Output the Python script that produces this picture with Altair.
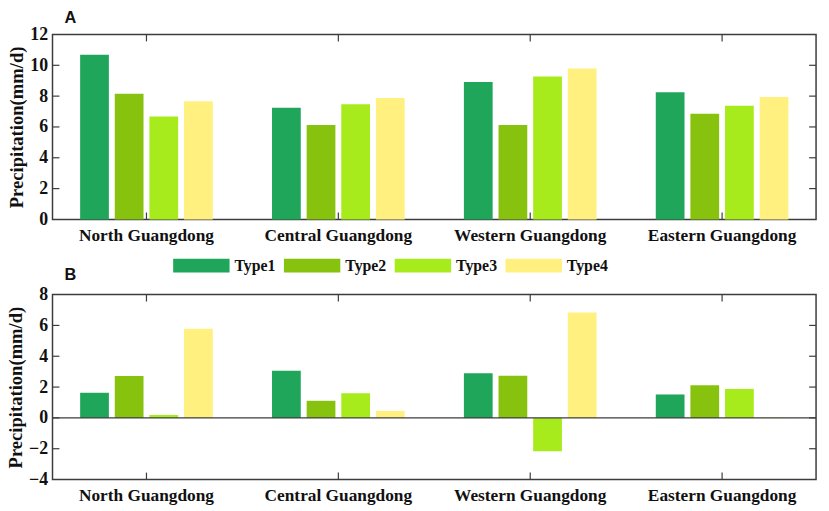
import altair as alt
import pandas as pd

regions = ['North Guangdong', 'Central Guangdong', 'Western Guangdong', 'Eastern Guangdong']
types = ['Type1', 'Type2', 'Type3', 'Type4']
colors = ['#20A65A', '#87C20F', '#A8EB1C', '#FFF07F']

# values per type, same order as regions
a_vals = {
    'Type1': [10.68, 7.25, 8.92, 8.25],
    'Type2': [8.15, 6.12, 6.13, 6.85],
    'Type3': [6.67, 7.47, 9.27, 7.37],
    'Type4': [7.67, 7.88, 9.8, 7.95],
}
b_vals = {
    'Type1': [1.63, 3.06, 2.89, 1.52],
    'Type2': [2.72, 1.11, 2.74, 2.12],
    'Type3': [0.19, 1.6, -2.16, 1.88],
    'Type4': [5.78, 0.45, 6.84, 0.03],
}
a_ticks = [0, 2, 4, 6, 8, 10, 12]
b_ticks = [-4, -2, 0, 2, 4, 6, 8]

W = 772
H = 187
serif = 'Liberation Serif'
dark = '#3c3c3c'
y_title = 'Precipitation(mm/d)'


def panel(vals, ticks, letter, title_offset, title_dy):
    rows = [{'region': r, 'type': t, 'value': vals[t][i]}
            for t in types for i, r in enumerate(regions)]
    df = pd.DataFrame(rows)
    yscale = alt.Scale(domain=[ticks[0], ticks[-1]], nice=False, zero=False)
    xscale = alt.Scale(range=[-2, W + 2], paddingInner=0, paddingOuter=0)
    # every layer gets the same axis, otherwise the merge drops settings
    xaxis = alt.Axis(ticks=False, domain=False, labelAngle=0, labelPadding=7,
                     labelOverlap=False, labelFontSize=17.5)
    yaxis = alt.Axis(values=ticks, ticks=False, domain=False, grid=False,
                     labelPadding=5, labelOverlap=False, labelFontSize=18,
                     titlePadding=3)

    bars = alt.Chart(df).mark_bar().encode(
        x=alt.X('region:N', sort=regions, scale=xscale, title=None, axis=xaxis),
        xOffset=alt.XOffset('type:N', sort=types,
                            scale=alt.Scale(paddingInner=0.17, paddingOuter=0.855)),
        y=alt.Y('value:Q', scale=yscale, title=y_title, axis=yaxis),
        color=alt.Color('type:N', sort=types, scale=alt.Scale(domain=types, range=colors),
                        legend=alt.Legend(orient='none', legendX=122, legendY=205,
                                          direction='horizontal', title=None, columns=4,
                                          symbolType='M-1,-0.245H1V0.245H-1Z', symbolSize=3249,
                                          symbolOpacity=1, symbolStrokeWidth=0,
                                          columnPadding=8, labelOffset=5,
                                          labelFont=serif, labelFontWeight='bold',
                                          labelFontSize=16, labelColor='#111111')),
    )

    tick_df = pd.DataFrame({'t': ticks[1:-1]})
    reg_df = pd.DataFrame({'region': regions})
    y_base = alt.Chart(tick_df).mark_rule(color=dark, strokeWidth=1.2)
    x_base = alt.Chart(reg_df).mark_rule(color=dark, strokeWidth=1.2)
    x_enc = alt.X('region:N', sort=regions, scale=xscale, title=None, axis=xaxis)
    y_enc = alt.Y('t:Q', scale=yscale, title=y_title, axis=yaxis)
    layers = [
        bars,
        y_base.encode(y=y_enc, x=alt.value(0), x2=alt.value(7)),
        y_base.encode(y=y_enc, x=alt.value(W - 7), x2=alt.value(W)),
        x_base.encode(x=x_enc, y=alt.value(0), y2=alt.value(7)),
        x_base.encode(x=x_enc, y=alt.value(H - 7), y2=alt.value(H)),
    ]
    if ticks[0] < 0:
        zero = alt.Chart(pd.DataFrame({'z': [0]})).mark_rule(color=dark, strokeWidth=1.2)
        layers.append(zero.encode(y=alt.Y('z:Q', scale=yscale, title=y_title, axis=yaxis)))

    return alt.layer(*layers).properties(
        width=W, height=H,
        title=alt.TitleParams(letter, anchor='start', frame='group', dx=12, dy=title_dy,
                              offset=title_offset, font='Liberation Sans', fontSize=16.5,
                              fontWeight='bold', color='#111111'),
    )


chart = alt.vconcat(panel(a_vals, a_ticks, 'A', -4, -3), panel(b_vals, b_ticks, 'B', 2, 0), spacing=21).configure_view(
    stroke=dark, strokeWidth=1.5
).configure_axis(
    labelFont=serif, labelFontWeight='bold', labelColor='#111111',
    titleFont=serif, titleFontWeight='bold', titleFontSize=18.8, titleColor='#111111',
).properties(background='white', padding={'left': -3, 'top': -2, 'right': 0, 'bottom': 0})

chart.save("out.html", embed_options={"renderer": "svg", "actions": False})
